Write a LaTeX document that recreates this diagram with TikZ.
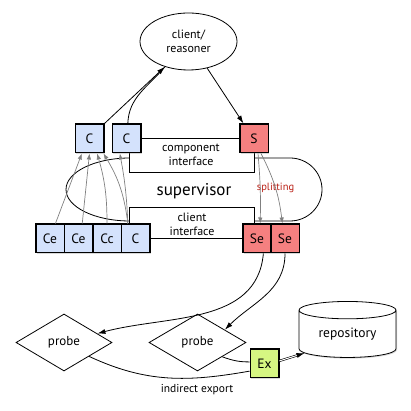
\documentclass[tikz,border=0pt]{standalone}
\usepackage{fontspec}
\setmainfont{PT Sans}
\usetikzlibrary{arrows.meta,shapes.geometric,shadows}
\definecolor{compblue}{RGB}{212,226,252}
\definecolor{supred}{RGB}{245,128,128}
\definecolor{expgreen}{RGB}{214,246,130}
\definecolor{splitred}{RGB}{185,30,20}
\begin{document}
\begin{tikzpicture}[x=1pt,y=1pt,
    comp/.style={draw,line width=1.5pt,fill=compblue,minimum size=28.5pt,inner sep=0pt,
        font=\fontsize{13.5}{13.5}\selectfont,
        drop shadow={shadow xshift=1pt,shadow yshift=-1.2pt,opacity=.3}},
    supbox/.style={comp,fill=supred},
    link/.style={line width=0.8pt,-{Latex[length=8pt,width=5pt]}},
    feed/.style={gray,line width=0.7pt,-{Latex[length=6pt,width=4.5pt]}},
    lbl/.style={align=center,font=\fontsize{12}{14}\selectfont}]
\useasboundingbox (0,0) rectangle (411,411);

    \draw[line width=0.8pt] (130,253) -- (290,253)
        arc[start angle=90,end angle=-90,x radius=32,y radius=31.5] -- (130,190)
        arc[start angle=270,end angle=90,x radius=64,y radius=31.5] -- cycle;
    \node[font=\fontsize{17}{17}\selectfont] (supLbl) at (194,220) {supervisor};
    \node[font=\fontsize{10.5}{10.5}\selectfont,text=splitred] (splitLbl) at (275.5,223) {splitting};

    \draw[line width=0.8pt,fill=white] (129,272.5) rectangle (254,239);
    \draw[line width=0.8pt,fill=white] (129,204) rectangle (254,172.5);
    \node[lbl] (compIf) at (191,256) {component\\interface};
    \node[lbl] (clientIf) at (192,187) {client\\interface};

    \node[draw,ellipse,line width=0.8pt,minimum width=97pt,minimum height=57pt,inner sep=0pt,lbl]
        (reasoner) at (188.5,369.5) {client/\\reasoner};

    \node[comp] (cTopA) at (89.5,272.5) {C};
    \node[comp] (cTopB) at (126.5,272.5) {C};
    \node[supbox] (sTop) at (254,272.5) {S};

    \node[comp] (ceA) at (50,172.5) {Ce};
    \node[comp] (ceB) at (78.5,172.5) {Ce};
    \node[comp] (cc) at (107,172.5) {Cc};
    \node[comp] (cBot) at (135.5,172.5) {C};
    \node[supbox] (seA) at (257,172.5) {Se};
    \node[supbox] (seB) at (285,172.5) {Se};

    \node[draw,diamond,line width=0.8pt,minimum width=96pt,minimum height=57pt,inner sep=0pt,
        font=\fontsize{13}{13}\selectfont] (probeA) at (64,68.5) {probe};
    \node[draw,diamond,line width=0.8pt,minimum width=97pt,minimum height=57pt,inner sep=0pt,
        font=\fontsize{13}{13}\selectfont] (probeB) at (197.5,68.5) {probe};
    \node[draw,cylinder,shape border rotate=90,aspect=0.3,line width=0.8pt,fill=white,
        minimum width=97pt,minimum height=56pt,inner sep=0pt,font=\fontsize{13.5}{13.5}\selectfont,
        drop shadow={shadow xshift=1pt,shadow yshift=-1.2pt,opacity=.3}] (repo) at (347.5,77) {repository};
    \node[comp,fill=expgreen] (ex) at (264.5,47.5) {Ex};
    \node[font=\fontsize{11.5}{11.5}\selectfont] (exportLbl) at (197,21) {indirect export};

    \draw[link] (cTopA.north east) -- (reasoner.227);
    \draw[line width=0.8pt] (cTopB.85) to[out=88,in=230] (reasoner.227);
    \draw[link] (reasoner.305) -- (sTop.125);

    \draw[feed] (ceA.70) -- (cTopA.243);
    \draw[feed] (ceB.76) -- (cTopA.south);
    \draw[feed] (cc.north) to[bend right=8] (cTopA.297);
    \draw[feed] (cBot.117) to[bend right=12] (cTopA.313);
    \draw[feed] (cBot.117) to[bend right=4] (cTopB.246);

    \draw[feed] (sTop.285) to[bend left=3] (seA.78);
    \draw[feed] (sTop.295) to[bend left=10] (seB.100);

    \draw[link] (seA.293) to[out=-95,in=15] (probeA.15);
    \draw[link] (seB.south) to[out=-90,in=45] (probeB.25);

    \draw[line width=0.8pt] (probeA.331) to[out=-25,in=190] (ex.207);
    \draw[line width=0.8pt] (probeB.330) to[out=-20,in=180] (ex.174);
    \draw[line width=0.6pt,double,double distance=1pt,-{Latex[length=8pt,width=5pt]}] (ex.10) -- (repo.204);
\end{tikzpicture}
\end{document}
